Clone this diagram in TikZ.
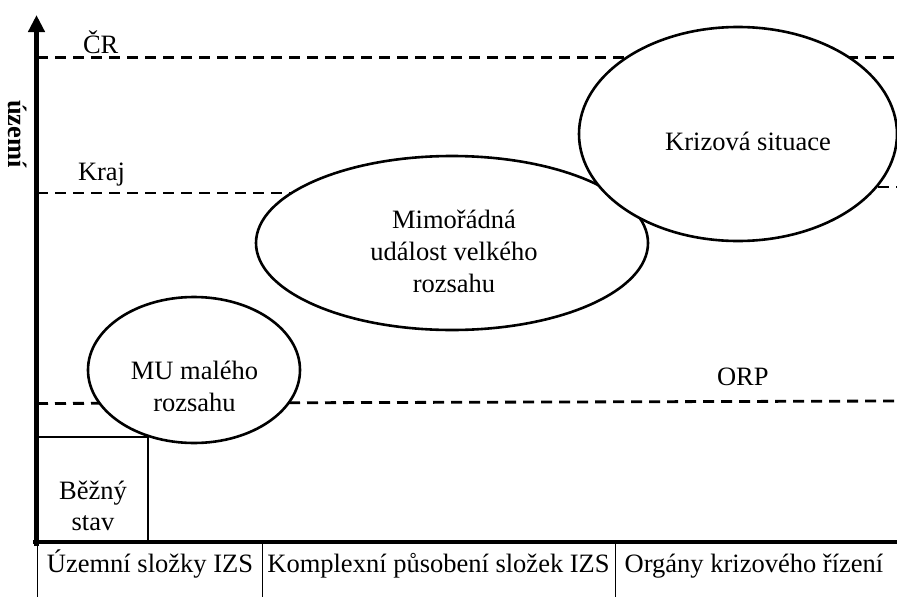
\documentclass[tikz,border=0pt]{standalone}
\usepackage{fontspec}
\setmainfont{Liberation Serif}
\usetikzlibrary{shapes.geometric,arrows.meta}
\begin{document}
\begin{tikzpicture}[x=1pt,y=-1pt,
  every node/.style={font=\fontsize{26.5}{32}\selectfont, inner sep=0pt, outer sep=0pt},
  lvl/.style={line width=2.8pt, dash pattern=on 11pt off 7pt},
  blob/.style={ellipse, draw, fill=white, line width=2.6pt, inner sep=0pt},
  lbl/.style={anchor=base, align=center},
  axisline/.style={line width=4.5pt},
  divider/.style={line width=1pt}
]
\useasboundingbox (0,0) rectangle (897,597);

% level lines
\coordinate (crL) at (37,57.5);  \coordinate (crR) at (897,57.5);
\coordinate (krL) at (37,193);   \coordinate (krM) at (620,193);
\coordinate (krS) at (860,187);  \coordinate (krR) at (897,187);
\coordinate (orL) at (37,403.5); \coordinate (orR) at (897,401);
\draw[lvl] (crL) -- (crR);
\draw[lvl] (krL) -- (krM);
\draw[lvl] (krS) -- (krR);
\draw[lvl] (orL) -- (orR);

% ellipses
\node[blob, minimum width=212pt, minimum height=146pt] (mu) at (194,370) {};
\node[blob, minimum width=392pt, minimum height=174pt] (mim) at (452,243) {};
\node[blob, minimum width=318pt, minimum height=214pt] (kriz) at (738,134) {};

% box
\coordinate (bxA) at (37,437); \coordinate (bxB) at (148,542);
\draw[line width=2.6pt] (bxA) rectangle (bxB);

% axes
\coordinate (axO) at (36.5,546);
\coordinate (axT) at (36.5,15);
\coordinate (axH0) at (33,542);
\coordinate (axH1) at (897,542);
\draw[axisline, -{Triangle[length=17pt,width=16pt]}] (axO) -- (axT);
\draw[line width=4pt] (axH0) -- (axH1);

% dividers
\coordinate (d1a) at (37,544);  \coordinate (d1b) at (37,597);
\coordinate (d2a) at (262,544); \coordinate (d2b) at (262,597);
\coordinate (d3a) at (615,544); \coordinate (d3b) at (615,597);
\draw[divider] (d1a) -- (d1b);
\draw[divider] (d2a) -- (d2b);
\draw[divider] (d3a) -- (d3b);

% texts (multi-line nodes: base = baseline of last line)
\node[anchor=base west] (tcr) at (83,53) {ČR};
\node[anchor=base west] (tkraj) at (78,180) {Kraj};
\node[anchor=base west] (torp) at (717,385) {ORP};
\node[lbl] (tkriz) at (748,150) {Krizová situace};
\node[lbl] (tmim) at (454,292) {Mimořádná\\událost velkého\\rozsahu};
\node[lbl] (tmu) at (194.5,411) {MU malého\\rozsahu};
\node[lbl, font=\fontsize{26.5}{31}\selectfont] (tbez) at (93,530) {Běžný\\stav};
\node[lbl] (tc1) at (150,572) {Územní složky IZS};
\node[lbl] (tc2) at (438.5,572) {Komplexní působení složek IZS};
\node[lbl] (tc3) at (754,572) {Orgány krizového řízení};
\node[rotate=-90, font=\fontsize{26.5}{32}\selectfont\bfseries] (tuz) at (17.5,134) {území};
\end{tikzpicture}
\end{document}
